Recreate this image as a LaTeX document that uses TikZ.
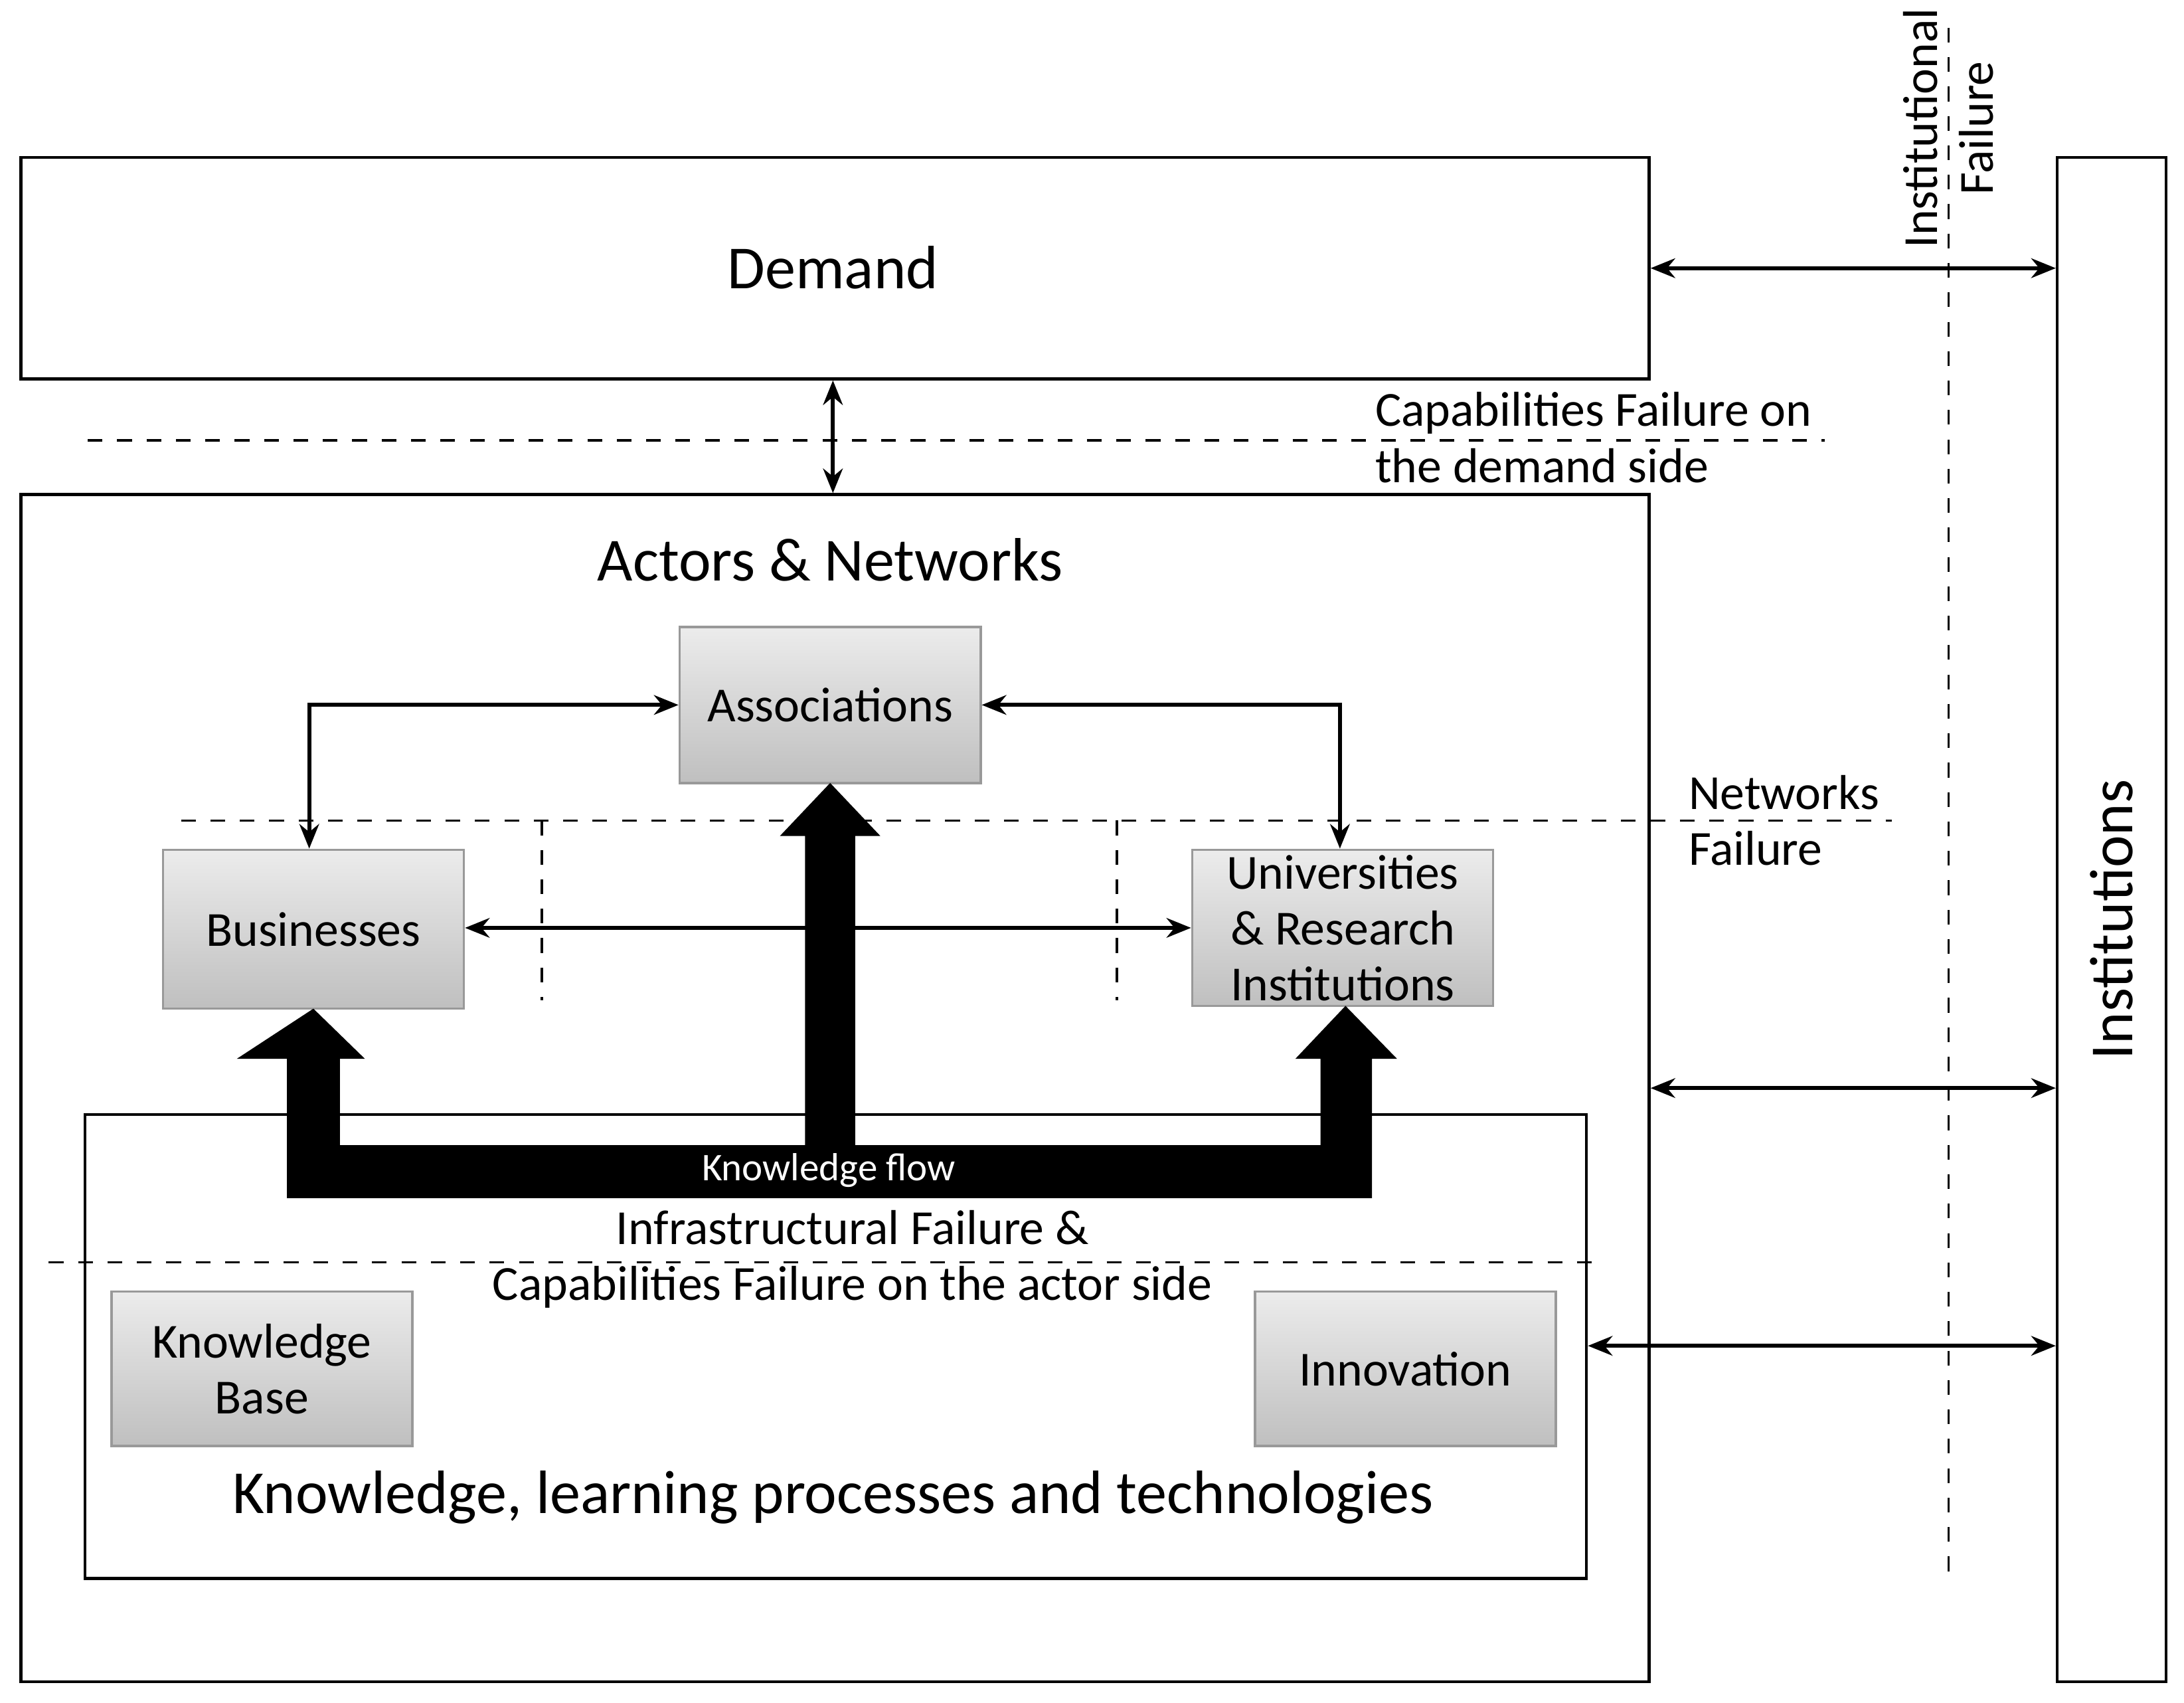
\documentclass[tikz,border=0pt]{standalone}
\usepackage{fontspec}
\setmainfont{Carlito}
\usetikzlibrary{fit,arrows.meta}
\begin{document}
\begin{tikzpicture}[x=0.01cm,y=-0.01cm,
 frame/.style={draw,inner sep=0pt,line width=0.6pt},
 gbox/.style={draw=gray!80,inner sep=0pt,top color=gray!15,bottom color=gray!50,line width=0.5pt},
 lbl/.style={font=\fontsize{8.6}{11.3}\selectfont,align=center},
 dl/.style={dashed,line width=0.5pt},
 da/.style={{Stealth[length=5pt,width=4pt]}-{Stealth[length=5pt,width=4pt]},line width=0.8pt},
 sa/.style={-{Stealth[length=5pt,width=4pt]},line width=0.8pt}]
\useasboundingbox (0,0) rectangle (1568,1222);
\fill[white] (0,0) rectangle (1568,1222);
% frames
\coordinate (d1) at (15,113); \coordinate (d2) at (1184,272);
\node[frame,fit=(d1)(d2)] (dem) {};
\node[font=\fontsize{12.5}{15}\selectfont] at (598,192) {Demand};
\coordinate (i1) at (1477,113); \coordinate (i2) at (1555,1207);
\node[frame,fit=(i1)(i2)] (inst) {};
\node[rotate=90,font=\fontsize{12.5}{15}\selectfont] at (1516,660) {Institutions};
\coordinate (a1) at (15,355); \coordinate (a2) at (1184,1207);
\node[frame,fit=(a1)(a2)] (act) {};
\node[font=\fontsize{12.5}{15}\selectfont] at (596,402) {Actors \& Networks};
\coordinate (k1) at (61,800); \coordinate (k2) at (1139,1133);
\node[frame,fit=(k1)(k2)] (kn) {};
\node[font=\fontsize{12.5}{15}\selectfont] at (598,1075) {Knowledge, learning processes and technologies};
% gray boxes
\coordinate (as1) at (488,450); \coordinate (as2) at (704,562);
\node[gbox,fit=(as1)(as2)] (asso) {};
\node[lbl,font=\fontsize{10}{13}\selectfont] at (asso) {Associations};
\coordinate (b1) at (117,610); \coordinate (b2) at (333,724);
\node[gbox,fit=(b1)(b2)] (bus) {};
\node[font=\fontsize{10}{13}\selectfont] at (bus) {Businesses};
\coordinate (u1) at (856,610); \coordinate (u2) at (1072,722);
\node[gbox,fit=(u1)(u2)] (uni) {};
\node[align=center,font=\fontsize{10}{11.4}\selectfont] at (uni) {Universities\\\& Research\\Institutions};
\coordinate (kb1) at (80,927); \coordinate (kb2) at (296,1038);
\node[gbox,fit=(kb1)(kb2)] (kb) {};
\node[align=center,font=\fontsize{10}{11.4}\selectfont] at (kb) {Knowledge\\Base};
\coordinate (in1) at (901,927); \coordinate (in2) at (1117,1038);
\node[gbox,fit=(in1)(in2)] (inn) {};
\node[font=\fontsize{10}{13}\selectfont] at (inn) {Innovation};
% dashed lines
\draw[dl] (63,316) -- (1310,316);
\node[align=left,anchor=west,font=\fontsize{10}{11.4}\selectfont] at (975,314) {Capabilities Failure on\\the demand side};
\draw[dl] (1399,20) -- (1399,1135);
\node[rotate=90,align=center,font=\fontsize{10}{11.4}\selectfont] at (1399,92) {Institutional\\Failure};
\draw[dl] (130,589) -- (1358,589);
\node[align=left,anchor=west,font=\fontsize{10}{11.4}\selectfont] at (1200,589) {Networks\\Failure};
\draw[dl] (389,589) -- (389,718);
\draw[dl] (802,589) -- (802,718);
\draw[dl] (35,906) -- (1153,906);
\node[align=center,font=\fontsize{10}{11.4}\selectfont] at (612,904) {Infrastructural Failure \&\\Capabilities Failure on the actor side};
% knowledge flow
\fill (206,860) -- (206,760) -- (170,760) -- (225,724) -- (262,760) -- (244,760) -- (244,822)
 -- (578,822) -- (578,600) -- (560,600) -- (596,562) -- (632,600) -- (614,600) -- (614,822)
 -- (948,822) -- (948,760) -- (930,760) -- (966,722) -- (1003,760) -- (985,760) -- (985,860) -- cycle;
\node[white,font=\fontsize{8}{10}\selectfont] at (595,840) {Knowledge flow};
% connectors
\draw[da] (dem.south -| 598,0) -- (act.north -| 598,0);
\draw[da] (dem.east) -- (dem.east -| inst.west);
\draw[da] (act.east |- 0,781) -- (inst.west |- 0,781);
\draw[da] (kn.east |- 0,966) -- (inst.west |- 0,966);
\draw[da] (bus.east |- 0,666) -- (uni.west |- 0,666);
\draw[da] (bus.north -| 222,0) |- (asso.west);
\draw[da] (uni.north -| 962,0) |- (asso.east);
\end{tikzpicture}
\end{document}
